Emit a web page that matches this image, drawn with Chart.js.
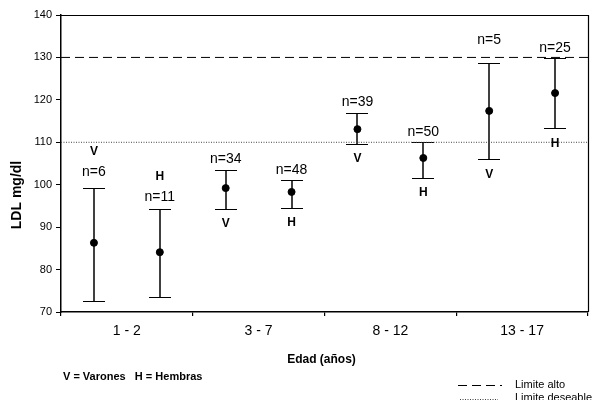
<!DOCTYPE html>
<html>
<head>
<meta charset="utf-8">
<script src="https://cdn.jsdelivr.net/npm/chart.js@4.4.1/dist/chart.umd.min.js"></script>
<style>
  html, body { margin: 0; background: #fff; }
</style>
</head>
<body>
<canvas id="chart" width="595" height="400"></canvas>
<script>
// ── Data ─────────────────────────────────────────────────────────────────────
const groups      = ['1 - 2', '3 - 7', '8 - 12', '13 - 17'];
const varonesMean = [86.3, 99.2, 113.1, 117.4];
const varonesHigh = [99.2, 103.5, 116.9, 128.7];
const varonesLow  = [72.6, 94.3, 109.6, 106.0];
const varonesN    = [6, 34, 39, 5];
const hembrasMean = [84.1, 98.3, 106.3, 121.6];
const hembrasHigh = [94.3, 101.1, 110.1, 129.9];
const hembrasLow  = [73.5, 94.5, 101.6, 113.3];
const hembrasN    = [11, 48, 50, 25];
const limiteAlto     = 130;
const limiteDeseable = 110;
const yMin = 70, yMax = 140, yStep = 10;

// ── Layout tweaks (not data) ─────────────────────────────────────────────────
const FONT = '"Liberation Sans", Arial, Helvetica, sans-serif';
const letterAbove = [true, false, false, false];   // V/H drawn above n= for 1-2
const varonesNLift = [6, 1, 1, 13];
const hembrasNLift = [2, 0, 0, 0];
const CAP = 11;

const series = [
  { letter: 'V', mean: varonesMean, high: varonesHigh, low: varonesLow, n: varonesN, lift: varonesNLift, off: 0.25 },
  { letter: 'H', mean: hembrasMean, high: hembrasHigh, low: hembrasLow, n: hembrasN, lift: hembrasNLift, off: 0.75 },
];

// ── Plugins ──────────────────────────────────────────────────────────────────
const errorBars = {
  id: 'errorBars',
  beforeDatasetsDraw(chart) {
    const { ctx } = chart;
    const y = chart.scales.y;
    ctx.save();
    ctx.strokeStyle = '#000';
    series.forEach((s, di) => {
      const meta = chart.getDatasetMeta(di);
      meta.data.forEach((pt, i) => {
        const yh = Math.round(y.getPixelForValue(s.high[i])) + 0.5;
        const yl = Math.round(y.getPixelForValue(s.low[i])) + 0.5;
        const x = Math.round(pt.x);
        ctx.lineWidth = 1.5;
        ctx.beginPath(); ctx.moveTo(x, yh); ctx.lineTo(x, yl); ctx.stroke();
        ctx.lineWidth = 1.2;
        ctx.beginPath();
        ctx.moveTo(x - CAP, yh); ctx.lineTo(x + CAP, yh);
        ctx.moveTo(x - CAP, yl); ctx.lineTo(x + CAP, yl);
        ctx.stroke();
      });
    });
    ctx.restore();
  },
  afterDatasetsDraw(chart) {
    const { ctx } = chart;
    const y = chart.scales.y;
    ctx.save();
    ctx.fillStyle = '#000';
    ctx.textAlign = 'center';
    ctx.textBaseline = 'middle';
    series.forEach((s, di) => {
      const meta = chart.getDatasetMeta(di);
      meta.data.forEach((pt, i) => {
        const yh = y.getPixelForValue(s.high[i]);
        const yl = y.getPixelForValue(s.low[i]);
        const nY = yh - 10 - s.lift[i];
        ctx.font = '14px ' + FONT;
        ctx.fillText('n=' + s.n[i], pt.x, nY);
        ctx.font = 'bold 12px ' + FONT;
        if (letterAbove[i]) ctx.fillText(s.letter, pt.x, nY - 20);
        else ctx.fillText(s.letter, pt.x, yl + 15);
      });
    });
    ctx.restore();
  },
};

const frameAndText = {
  id: 'frameAndText',
  afterDraw(chart) {
    const { ctx, chartArea: a } = chart;
    ctx.save();
    // top and right frame lines
    ctx.strokeStyle = '#000';
    ctx.lineWidth = 1.2;
    ctx.beginPath();
    ctx.moveTo(a.left, a.top + 0.5); ctx.lineTo(a.right + 0.5, a.top + 0.5);
    ctx.lineTo(a.right + 0.5, a.bottom);
    ctx.stroke();

    ctx.fillStyle = '#000';
    // y title
    ctx.save();
    ctx.translate(17, 195);
    ctx.rotate(-Math.PI / 2);
    ctx.font = 'bold 14px ' + FONT;
    ctx.textAlign = 'center';
    ctx.textBaseline = 'middle';
    ctx.fillText('LDL mg/dl', 0, 0);
    ctx.restore();

    // x title
    ctx.font = 'bold 12px ' + FONT;
    ctx.textAlign = 'center';
    ctx.textBaseline = 'middle';
    ctx.fillText('Edad (años)', (a.left + a.right) / 2 - 3, 360);

    // footer notes
    ctx.textAlign = 'left';
    ctx.font = 'bold 11px ' + FONT;
    ctx.fillText('V = Varones   H = Hembras', 63, 377);

    const alto = chart.data.datasets[2], des = chart.data.datasets[3];
    ctx.lineWidth = 1;
    ctx.strokeStyle = alto.borderColor;
    ctx.setLineDash(alto.borderDash);
    ctx.beginPath(); ctx.moveTo(458, 385.5); ctx.lineTo(502, 385.5); ctx.stroke();
    ctx.strokeStyle = des.borderColor;
    ctx.setLineDash(des.borderDash);
    ctx.beginPath(); ctx.moveTo(460, 399.5); ctx.lineTo(498, 399.5); ctx.stroke();
    ctx.setLineDash([]);

    ctx.font = '11px ' + FONT;
    ctx.fillText('Limite alto', 515, 385);
    ctx.fillText('Limite deseable', 515, 398);
    ctx.restore();
  },
};

// ── Chart ────────────────────────────────────────────────────────────────────
const pointsOf = s => s.mean.map((v, i) => ({ x: i + s.off, y: v }));
const flatLine = v => [{ x: 0, y: v }, { x: groups.length, y: v }];

new Chart(document.getElementById('chart'), {
  type: 'scatter',
  data: {
    datasets: [
      { label: 'Varones', data: pointsOf(series[0]), pointRadius: 3.5, backgroundColor: '#000', borderColor: '#000' },
      { label: 'Hembras', data: pointsOf(series[1]), pointRadius: 3.5, backgroundColor: '#000', borderColor: '#000' },
      { label: 'Limite alto', type: 'line', data: flatLine(limiteAlto), borderColor: '#000',
        borderWidth: 1, borderDash: [9, 5], pointRadius: 0, showLine: true },
      { label: 'Limite deseable', type: 'line', data: flatLine(limiteDeseable), borderColor: '#444',
        borderWidth: 1, borderDash: [1, 1.5], pointRadius: 0, showLine: true },
    ],
  },
  options: {
    responsive: false,
    animation: false,
    devicePixelRatio: 1,
    layout: { padding: { top: 15, right: 4, left: 0, bottom: 0 } },
    plugins: { legend: { display: false }, tooltip: { enabled: false } },
    scales: {
      x: {
        type: 'linear', min: 0, max: groups.length,
        afterBuildTicks: sc => {
          sc.ticks = [];
          for (let v = 0; v <= groups.length; v += 0.5) sc.ticks.push({ value: v });
        },
        afterFit: sc => { sc.height = 88; },
        ticks: {
          autoSkip: false, maxRotation: 0, padding: 7, color: '#000',
          font: { family: FONT, size: 14 },
          callback: v => Number.isInteger(v) ? '' : groups[Math.floor(v)],
        },
        grid: {
          drawOnChartArea: false, tickLength: 4, lineWidth: 1.2,
          color: c => Number.isInteger(c.tick.value) ? '#000' : 'rgba(0,0,0,0)',
        },
        border: { color: '#000', width: 1.5 },
      },
      y: {
        min: yMin, max: yMax,
        afterFit: sc => { sc.width = 61; },
        ticks: { stepSize: yStep, padding: 4, color: '#000', font: { family: FONT, size: 11 } },
        grid: { drawOnChartArea: false, tickLength: 5, color: '#000', lineWidth: 1 },
        border: { color: '#000', width: 1.5 },
      },
    },
  },
  plugins: [errorBars, frameAndText],
});
</script>
</body>
</html>
